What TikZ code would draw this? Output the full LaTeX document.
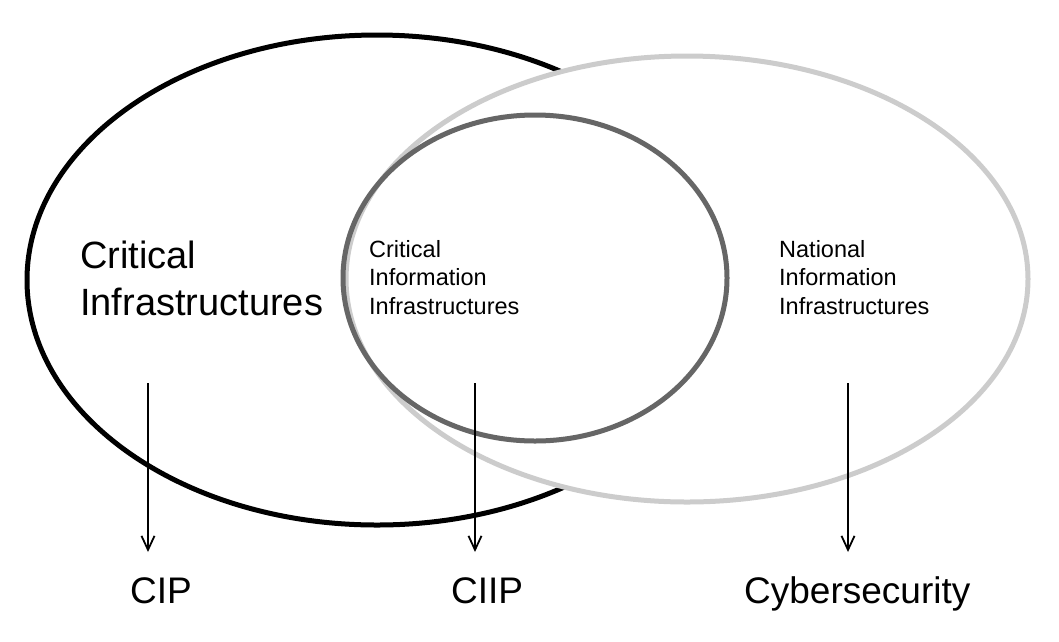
\documentclass[tikz,border=0pt]{standalone}
\usepackage{fontspec}
\setmainfont{Liberation Sans}
\usetikzlibrary{arrows.meta}
\definecolor{lightring}{HTML}{CCCCCC}
\definecolor{darkring}{HTML}{666666}
\tikzset{>={Straight Barb[length=14pt,width=13pt]}}
\tikzset{
  bigtext/.style={font=\fontsize{38}{47}\selectfont, anchor=base west, align=left, inner sep=0pt},
  smalltext/.style={font=\fontsize{23.5}{28.5}\selectfont, anchor=base west, align=left, inner sep=0pt},
  result/.style={font=\fontsize{37}{44}\selectfont, anchor=base west, inner sep=0pt},
  ring/.style={line width=5pt},
}

\begin{document}
\begin{tikzpicture}[x=1pt, y=-1pt]
    \useasboundingbox (0,0) rectangle (1059,641);
    % the three sets
    \draw[ring] (377,280) ellipse [x radius=350, y radius=245];
    \draw[ring, lightring, fill=white] (687,279) ellipse [x radius=341, y radius=223];
    \draw[ring, darkring] (535,278) ellipse [x radius=192, y radius=163];
    % set names (base is the last line)
    \node[bigtext] (ci) at (80,315) {Critical\\Infrastructures};
    \node[smalltext] (cii) at (369,314) {Critical\\Information\\Infrastructures};
    \node[smalltext] (nii) at (779,314) {National\\Information\\Infrastructures};
    % what protects them
    \node[result] (cip) at (130,603) {CIP};
    \node[result] (ciip) at (451,603) {CIIP};
    \node[result] (cyber) at (744,603) {Cybersecurity};
    \foreach \x/\name in {148/cip,475/ciip,848/cyber}
    {
    \coordinate (\name top) at (\x,383);
    \coordinate (\name end) at (\x,552);
    \draw[->, line width=1.8pt] (\name top) -- (\name end);
    }
\end{tikzpicture}
\end{document}
